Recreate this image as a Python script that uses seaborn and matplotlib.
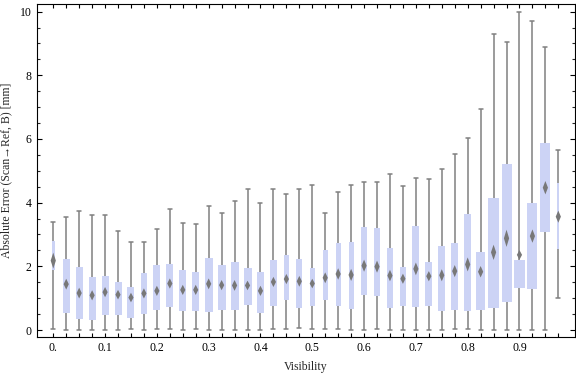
import matplotlib
matplotlib.use("Agg")
import matplotlib.pyplot as plt
from matplotlib.ticker import FixedLocator, MultipleLocator
import seaborn as sns
import numpy as np
import pandas as pd

# visibility bins (box positions)
visibility = [0.0, 0.025, 0.05, 0.075, 0.1, 0.125, 0.15, 0.175,
              0.2, 0.225, 0.25, 0.275, 0.3, 0.325, 0.35, 0.375,
              0.4, 0.425, 0.45, 0.475, 0.5, 0.525, 0.55, 0.575,
              0.6, 0.625, 0.65, 0.675, 0.7, 0.725, 0.75, 0.775,
              0.8, 0.825, 0.85, 0.875, 0.9, 0.925, 0.95, 0.975]

# box-whisker statistics [mm]
whisk_lo = [0.04, 0.0, 0.0, 0.0, 0.0, 0.0, 0.03, 0.0,
            0.02, 0.02, 0.0, 0.02, 0.0, 0.0, 0.0, 0.0,
            0.0, 0.02, 0.04, 0.07, 0.04, 0.02, 0.04, 0.0,
            0.0, 0.02, 0.0, 0.0, 0.0, 0.0, 0.0, 0.02,
            0.02, 0.0, 0.0, 0.0, 0.0, 0.0, 0.0, 1.00]
q1 = [1.88, 0.54, 0.36, 0.32, 0.48, 0.48, 0.39, 0.51,
      0.63, 0.72, 0.61, 0.60, 0.57, 0.63, 0.63, 0.80,
      0.54, 0.76, 0.95, 0.70, 0.76, 0.93, 0.76, 0.67,
      1.11, 1.08, 0.70, 0.76, 0.73, 0.76, 0.61, 0.64,
      0.61, 0.64, 0.70, 0.87, 1.33, 1.30, 3.09, 2.55]
q3 = [2.79, 2.22, 1.97, 1.66, 1.70, 1.51, 1.35, 1.79,
      2.04, 2.07, 1.88, 1.82, 2.26, 2.04, 2.13, 1.94,
      1.81, 2.19, 2.35, 2.22, 1.94, 2.50, 2.72, 2.75,
      3.23, 3.20, 2.57, 1.98, 3.27, 2.13, 2.64, 2.73,
      3.64, 2.44, 4.14, 5.21, 2.20, 3.99, 5.87, 4.63]
whisk_hi = [3.40, 3.54, 3.73, 3.60, 3.60, 3.10, 2.78, 2.75,
            3.16, 3.79, 3.35, 3.32, 3.88, 3.69, 4.05, 4.42,
            3.98, 4.42, 4.26, 4.42, 4.57, 3.69, 4.32, 4.57,
            4.64, 4.64, 4.89, 4.51, 4.79, 4.73, 5.05, 5.52,
            6.03, 6.93, 9.31, 9.06, 10.0, 9.69, 8.88, 5.64]
# diamond marker: centre and half height
mean = [2.18, 1.44, 1.16, 1.09, 1.19, 1.11, 1.02, 1.15,
        1.23, 1.46, 1.26, 1.26, 1.45, 1.41, 1.40, 1.40,
        1.23, 1.51, 1.60, 1.53, 1.46, 1.64, 1.76, 1.73,
        2.02, 1.99, 1.71, 1.61, 1.92, 1.69, 1.72, 1.85,
        2.06, 1.83, 2.44, 2.88, 2.36, 2.95, 4.47, 3.56]
mean_err = [0.25, 0.17, 0.17, 0.16, 0.16, 0.15, 0.15, 0.16,
            0.16, 0.16, 0.16, 0.16, 0.17, 0.16, 0.17, 0.15,
            0.16, 0.16, 0.16, 0.17, 0.15, 0.17, 0.18, 0.19,
            0.19, 0.19, 0.18, 0.16, 0.20, 0.16, 0.19, 0.19,
            0.22, 0.18, 0.24, 0.27, 0.15, 0.21, 0.21, 0.19]

xtick_pos = [0.0, 0.1, 0.2, 0.3, 0.4, 0.5, 0.6, 0.7, 0.8, 0.9]
xtick_labels = ["0.", "0.1", "0.2", "0.3", "0.4", "0.5", "0.6", "0.7", "0.8", "0.9"]
ytick_pos = [0, 2, 4, 6, 8, 10]
ytick_labels = ["0", "2", "4", "6", "8", "10"]

# box widths in pixels as drawn
box_px = [3, 7, 7, 7, 7, 7, 7, 6, 7, 7, 7, 7, 8, 8, 8, 8,
          7, 7, 5, 6, 5, 5, 5, 5, 6, 6, 6, 6, 7, 7, 7, 7,
          7, 9, 11, 10, 11, 10, 10, 2]

box_color = "#ccd3f5"
line_color = "#808080"
diamond_color = "#787878"

sns.set_theme(style="ticks")
plt.rcParams['font.family'] = ['Liberation Serif', 'DejaVu Serif']
plt.rcParams['font.size'] = 8.5

fig = plt.figure(figsize=(5.76, 3.77), dpi=100)
ax = fig.add_axes([37 / 576, 1 - 336.7 / 377, 538 / 576, 332.4 / 377])

xlim = (-0.0314, 1.0072)
px_per_unit = 538 / (xlim[1] - xlim[0])

# five-number data per bin; with whis=(0,100) the box/whiskers hit them exactly
df = pd.DataFrame({
    "vis": np.repeat(visibility, 5),
    "err": np.column_stack([whisk_lo, q1, q1, q3, whisk_hi]).ravel(),
})

sns.boxplot(data=df, x="vis", y="err", native_scale=True, whis=(0, 100),
            showfliers=False, width=0.5, saturation=1, color=box_color,
            linecolor=line_color,
            boxprops={"linewidth": 0, "facecolor": box_color},
            whiskerprops={"linewidth": 1.1, "color": line_color},
            capprops={"linewidth": 1.1, "color": line_color},
            medianprops={"linewidth": 0},
            ax=ax)

# set the individual box widths
for patch, w in zip(ax.patches, box_px):
    path = patch.get_path()
    v = path.vertices.copy()
    c = (v[:, 0].min() + v[:, 0].max()) / 2
    hw = w / px_per_unit / 2
    v[:, 0] = np.where(v[:, 0] < c, c - hw, c + hw)
    path.vertices = v
    patch.set_zorder(2)

# short caps
cap_hw = 2.0 / px_per_unit
for line in ax.lines:
    xd = np.asarray(line.get_xdata(), dtype=float)
    yd = np.asarray(line.get_ydata(), dtype=float)
    if len(xd) == 2 and yd[0] == yd[1] and xd[0] != xd[1]:
        c = xd.mean()
        line.set_xdata([c - cap_hw, c + cap_hw])
    line.set_zorder(1.5)

# diamond markers
dhw = 2.6 / px_per_unit
for x, m, h in zip(visibility, mean, mean_err):
    ax.fill([x - dhw, x, x + dhw, x], [m, m + h, m, m - h],
            color=diamond_color, lw=0, zorder=3)

ax.set_xlim(*xlim)
ax.set_ylim(-0.21, 10.23)

ax.xaxis.set_major_locator(FixedLocator(xtick_pos))
ax.set_xticklabels(xtick_labels)
ax.xaxis.set_minor_locator(FixedLocator(visibility))
ax.yaxis.set_major_locator(FixedLocator(ytick_pos))
ax.set_yticklabels(ytick_labels)
ax.yaxis.set_minor_locator(MultipleLocator(0.5))
ax.tick_params(axis="x", which="both", direction="in", length=3.2, width=0.8,
               top=True, bottom=True, pad=4, labelsize=8.5, colors="black")
ax.tick_params(axis="y", which="major", direction="in", length=3.6, width=0.8,
               left=True, right=True, pad=4, labelsize=8.5, colors="black")
ax.tick_params(axis="y", which="minor", direction="in", length=2.2, width=0.8,
               left=True, right=True)

for s in ax.spines.values():
    s.set_visible(True)
    s.set_color("black")
    s.set_linewidth(0.8)

ax.set_xlabel("Visibility", fontsize=8.5)
ax.set_ylabel("Absolute Error (Scan\u2192Ref, B) [mm]", fontsize=8.5)
ax.xaxis.set_label_coords(0.5, -0.072)
ax.yaxis.set_label_coords(-0.045, 0.5)

fig.savefig("out.png", dpi=100)
